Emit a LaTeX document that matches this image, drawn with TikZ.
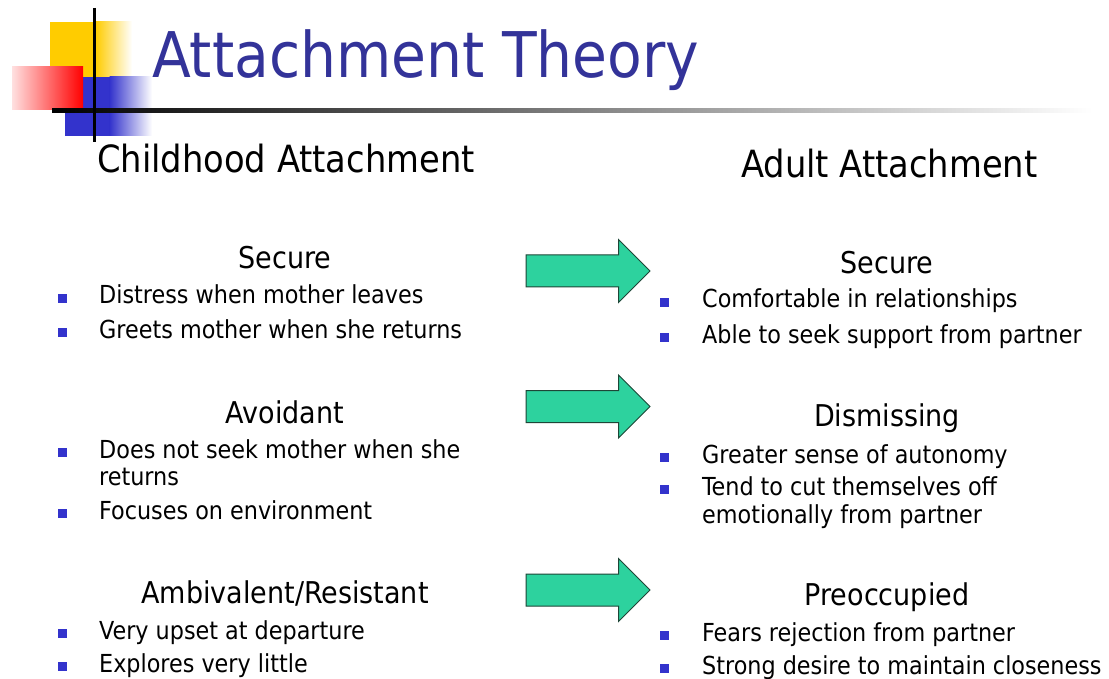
\documentclass[tikz,border=0pt]{standalone}
\usepackage{fontspec}
\setmainfont{DejaVu Sans Condensed}
\usetikzlibrary{shapes.arrows}

\definecolor{titleblue}{RGB}{51,51,153}
\definecolor{bulletblue}{RGB}{51,51,204}
\definecolor{arrowgreen}{RGB}{45,210,158}
\definecolor{arrowline}{RGB}{30,70,55}
\definecolor{decoyellow}{RGB}{255,204,0}

\begin{document}
\begin{tikzpicture}[x=1pt,y=-1pt,
  bul/.style={fill=bulletblue, minimum size=9pt, inner sep=0pt},
  item/.style={anchor=base west, inner sep=0pt, font=\fontsize{24.8}{28}\selectfont},
  kind/.style={anchor=base, inner sep=0pt, font=\fontsize{30}{36}\selectfont},
  column/.style={anchor=base west, inner sep=0pt, font=\fontsize{37.5}{46}\selectfont},
  goesto/.style={single arrow, draw=arrowline, fill=arrowgreen, line width=1pt,
    minimum height=124pt, inner xsep=0pt, inner ysep=15.5pt,
    single arrow head extend=15.5pt, single arrow tip angle=90}]

\useasboundingbox (0,0) rectangle (1109,679);
\fill[white] (0,0) rectangle (1109,679);

% corner decoration
\fill[decoyellow] (50,22) rectangle (96,78);
\shade[left color=decoyellow, right color=white] (95.5,22) rectangle (132,78);
\fill[bulletblue] (65,77) rectangle (110,136);
\shade[left color=bulletblue, right color=white] (109.5,77) rectangle (152,136);
\shade[left color=red!12, right color=red] (12,67) rectangle (83,110);
\shade[left color=black, middle color=black!35, right color=white] (52,108.5) rectangle (1092,113);
\draw[black, line width=3pt] (94,8) -- (94,142);

\node(title)[anchor=base west, inner sep=0pt, text=titleblue, font=\fontsize{63}{70}\selectfont] at (152,78) {Attachment Theory};

\node(child)[column] at (97,173) {Childhood Attachment};
\node(adult)[column] at (741,178) {Adult Attachment};

% childhood side
\node(csecure)[kind] at (285,269) {Secure};
\node(b1)[bul] at (62,298.5) {};
\node(t1)[item] at (99,304) {Distress when mother leaves};
\node(b2)[bul] at (62,332.5) {};
\node(t2)[item] at (99,338) {Greets mother when she returns};

\node(cavoid)[kind] at (285,423) {Avoidant};
\node(b3)[bul] at (62,452.5) {};
\node(t3)[item] at (99,458) {Does not seek mother when she};
\node(t3b)[item] at (99,485) {returns};
\node(b4)[bul] at (62,513.5) {};
\node(t4)[item] at (99,519) {Focuses on environment};

\node(cambi)[kind] at (285,603) {Ambivalent/Resistant};
\node(b5)[bul] at (62,633.5) {};
\node(t5)[item] at (99,639) {Very upset at departure};
\node(b6)[bul] at (62,666.5) {};
\node(t6)[item] at (99,672) {Explores very little};

% adult side
\node(asecure)[kind] at (887,273) {Secure};
\node(r1)[bul] at (664,302.5) {};
\node(s1)[item] at (702,308) {Comfortable in relationships};
\node(r2)[bul] at (664,337.5) {};
\node(s2)[item] at (702,343) {Able to seek support from partner};

\node(adismiss)[kind] at (887,426) {Dismissing};
\node(r3)[bul] at (664,457.5) {};
\node(s3)[item] at (702,463) {Greater sense of autonomy};
\node(r4)[bul] at (664,489.5) {};
\node(s4)[item] at (702,495) {Tend to cut themselves off};
\node(s4b)[item] at (702,523) {emotionally from partner};

\node(apreocc)[kind] at (887,605) {Preoccupied};
\node(r5)[bul] at (664,635.5) {};
\node(s5)[item] at (702,641) {Fears rejection from partner};
\node(r6)[bul] at (664,668.5) {};
\node(s6)[item] at (702,674) {Strong desire to maintain closeness};

% arrows
\node(arr1)[goesto] at (580,271) {};
\node(arr2)[goesto] at (580,406.5) {};
\node(arr3)[goesto] at (580,590) {};

\end{tikzpicture}
\end{document}
